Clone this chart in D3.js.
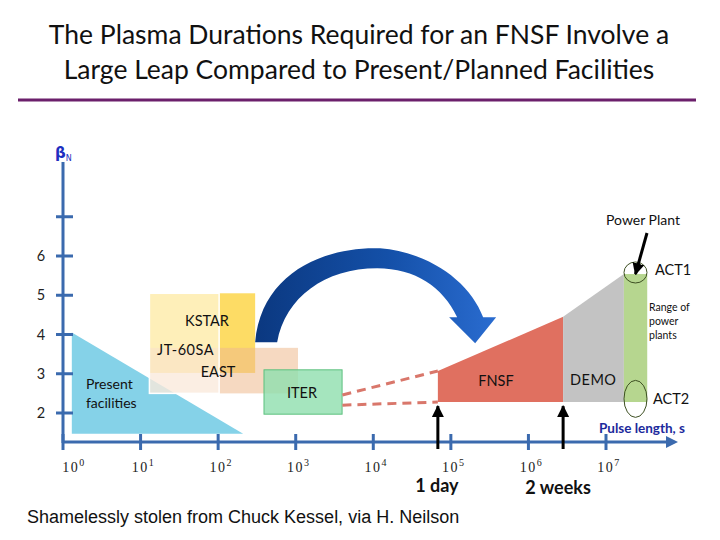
<!DOCTYPE html>
<html>
<head>
<meta charset="utf-8">
<script src="https://cdn.jsdelivr.net/npm/d3@7"></script>
<style>
  body { margin: 0; background: white; }
  svg { display: block; }
</style>
</head>
<body>
<svg id="chart"></svg>
<script>
// pulse length (s) and beta_N values
const yTicks = [2, 3, 4, 5, 6, 7];
const yTickLabels = ["2", "3", "4", "5", "6", ""];
const xTicks = [1, 1e1, 1e2, 1e3, 1e4, 1e5, 1e6, 1e7];
const xTickExp = ["0", "1", "2", "3", "4", "5", "6", "7"];

// present facilities triangle
const presentSec = [1.3, 1.3, 210];
const presentBeta = [4.05, 1.47, 1.47];

// boxes: [x0, x1, y0, y1]
const kstarBox = [13, 300, 3.02, 5.05];
const eastBox = [13, 1070, 2.5, 3.66];
const jt60Box = [13, 103, 2.5, 5.05];
const iterBox = [390, 3960, 1.97, 3.1];

// FNSF / DEMO / power plants
const fnsfSec = [68000, 68000, 2.8e6, 2.8e6];
const fnsfBeta = [2.28, 3.07, 4.45, 2.28];
const demoSec = [2.8e6, 2.8e6, 1.7e7, 1.7e7];
const demoBeta = [2.28, 4.45, 5.54, 2.28];
const plantBox = [1.7e7, 3.4e7, 2.28, 5.54];

// dashed extrapolation from ITER to FNSF
const dashUpper = [[4000, 2.46], [68000, 3.07]];
const dashLower = [[4000, 2.2], [68000, 2.28]];

// markers: 1 day and 2 weeks arrows
const markerSec = [68000, 2.8e6];
const markerLabels = ["1 day", "2 weeks"];

const width = 720, height = 540;
const svg = d3.select("#chart").attr("width", width).attr("height", height);

const x = d3.scaleLog().domain([1, 1e7]).range([63, 606]);
const y = d3.scaleLinear().domain([2, 6]).range([413, 256]);

const axisColor = "#3b6aae";
const labelFont = "Lato, 'Open Sans', sans-serif";

// title
const title = svg.append("g").attr("font-family", labelFont).attr("font-size", 26.5)
  .attr("text-anchor", "middle").attr("fill", "#111");
title.append("text").attr("x", 359).attr("y", 44).text("The Plasma Durations Required for an FNSF Involve a");
title.append("text").attr("x", 359).attr("y", 79).text("Large Leap Compared to Present/Planned Facilities");
svg.append("line").attr("x1", 18).attr("x2", 696).attr("y1", 100).attr("y2", 100)
  .attr("stroke", "#6b1f6b").attr("stroke-width", 3);

const defs = svg.append("defs");
const grad = defs.append("linearGradient").attr("id", "arcGrad")
  .attr("x1", "0%").attr("x2", "100%").attr("y1", "0%").attr("y2", "0%");
grad.append("stop").attr("offset", "0%").attr("stop-color", "#0b3880");
grad.append("stop").attr("offset", "55%").attr("stop-color", "#1450a8");
grad.append("stop").attr("offset", "100%").attr("stop-color", "#2a6cd0");

function arrowHead(id, color) {
  defs.append("marker").attr("id", id)
    .attr("viewBox", "0 0 10 10").attr("refX", 9).attr("refY", 5)
    .attr("markerWidth", 4).attr("markerHeight", 4).attr("orient", "auto")
    .append("path").attr("d", "M0,0 L10,5 L0,10 Z").attr("fill", color);
}
arrowHead("blackHead", "#000");

// present facilities
const tri = d3.zip(presentSec, presentBeta);
svg.append("path")
  .attr("d", "M" + tri.map(d => [x(d[0]), y(d[1])]).join("L") + "Z")
  .attr("fill", "#85d2e8");

function box(b, fill, opacity, stroke) {
  return svg.append("rect")
    .attr("x", x(b[0])).attr("width", x(b[1]) - x(b[0]))
    .attr("y", y(b[3])).attr("height", y(b[2]) - y(b[3]))
    .attr("fill", fill).attr("fill-opacity", opacity)
    .attr("stroke", stroke || "none");
}
box(kstarBox, "#fdd64a", 0.85);
box(eastBox, "#eeb98e", 0.55);
box(jt60Box, "#ffffff", 0.55, "#ffffff").attr("stroke-width", 1.5);
box(iterBox, "#8fdfae", 0.8, "#5cc07e").attr("stroke-width", 1);

// the big curved arrow
const ax0 = x(300), ay0 = y(3.8);
const arc = d3.path();
arc.moveTo(ax0, ay0);
arc.bezierCurveTo(ax0 + 6, ay0 - 70, ax0 + 70, ay0 - 96, ax0 + 125, ay0 - 94);
arc.bezierCurveTo(ax0 + 175, ay0 - 90, ax0 + 215, ay0 - 60, ax0 + 228, ay0 - 25);
arc.lineTo(ax0 + 241, ay0 - 25);
arc.lineTo(ax0 + 220, ay0 + 1);
arc.lineTo(ax0 + 194, ay0 - 25);
arc.lineTo(ax0 + 202, ay0 - 25);
arc.bezierCurveTo(ax0 + 188, ay0 - 55, ax0 + 160, ay0 - 74, ax0 + 122, ay0 - 74);
arc.bezierCurveTo(ax0 + 70, ay0 - 74, ax0 + 30, ay0 - 45, ax0 + 22, ay0);
arc.closePath();
svg.append("path").attr("d", arc.toString()).attr("fill", "url(#arcGrad)");

// dashed extrapolation
const line = d3.line().x(d => x(d[0])).y(d => y(d[1]));
[dashUpper, dashLower].forEach(d => {
  svg.append("path").attr("d", line(d)).attr("fill", "none")
    .attr("stroke", "#d9776b").attr("stroke-width", 3).attr("stroke-dasharray", "9,6");
});

function poly(secs, betas, fill) {
  svg.append("path")
    .attr("d", line(d3.zip(secs, betas)) + "Z")
    .attr("fill", fill);
}
poly(fnsfSec, fnsfBeta, "#e07060");
poly(demoSec, demoBeta, "#c3c3c3");
box(plantBox, "#b6d68f", 1);

// ACT ellipses
svg.append("ellipse").attr("cx", x(2.4e7)).attr("cy", y(5.58)).attr("rx", 11.5).attr("ry", 10.5)
  .attr("fill", "none").attr("stroke", "#3d4f22").attr("stroke-width", 1);
svg.append("ellipse").attr("cx", x(2.4e7)).attr("cy", y(2.36)).attr("rx", 11.5).attr("ry", 18.5)
  .attr("fill", "none").attr("stroke", "#3d4f22").attr("stroke-width", 1);

// axes
const xEnd = 678;
svg.append("line").attr("x1", x(1)).attr("x2", xEnd - 8).attr("y1", 442).attr("y2", 442)
  .attr("stroke", axisColor).attr("stroke-width", 3);
svg.append("path").attr("d", `M${xEnd - 12},436 L${xEnd},442 L${xEnd - 12},448 Z`).attr("fill", axisColor);
svg.append("line").attr("x1", 63).attr("x2", 63).attr("y1", 443).attr("y2", 162)
  .attr("stroke", axisColor).attr("stroke-width", 3);

svg.selectAll(".ytick").data(yTicks).enter().append("line")
  .attr("x1", 56).attr("x2", 73).attr("y1", d => y(d)).attr("y2", d => y(d))
  .attr("stroke", axisColor).attr("stroke-width", 3);
svg.selectAll(".ylab").data(yTicks).enter().append("text")
  .attr("x", 41).attr("y", d => y(d) + 5).attr("text-anchor", "middle")
  .attr("font-family", labelFont).attr("font-size", 14.5).attr("fill", "#222")
  .text((d, i) => yTickLabels[i]);

svg.selectAll(".xtick").data(xTicks).enter().append("line")
  .attr("x1", d => x(d)).attr("x2", d => x(d)).attr("y1", 434).attr("y2", 450)
  .attr("stroke", axisColor).attr("stroke-width", 3);
const xl = svg.selectAll(".xlab").data(xTicks).enter().append("text")
  .attr("x", (d, i) => x(d) + (i === 0 ? 11 : 3)).attr("y", 472).attr("text-anchor", "middle")
  .attr("font-family", "'Liberation Serif', serif").attr("font-size", 14)
  .attr("letter-spacing", 1.5).attr("fill", "#222");
xl.append("tspan").text("10");
xl.append("tspan").attr("dy", -6).attr("font-size", 10).text((d, i) => xTickExp[i]);

// beta_N
const bl = svg.append("text").attr("x", 55).attr("y", 158).attr("fill", "#1e2fc0")
  .attr("font-family", "'DejaVu Sans', sans-serif").attr("font-weight", "bold").attr("font-size", 15);
bl.append("tspan").text("β");
bl.append("tspan").attr("font-size", 8).attr("font-weight", "normal").attr("dy", 3).text("N");

// marker arrows
svg.selectAll(".marker").data(markerSec).enter().append("line")
  .attr("x1", d => x(d)).attr("x2", d => x(d)).attr("y1", 449).attr("y2", y(2.2) + 1)
  .attr("stroke", "#000").attr("stroke-width", 3).attr("marker-end", "url(#blackHead)");
svg.selectAll(".mlab").data(markerSec).enter().append("text")
  .attr("x", (d, i) => x(d) + (i === 0 ? -1 : -5)).attr("y", (d, i) => 492 + i * 2)
  .attr("text-anchor", "middle").attr("font-family", labelFont).attr("font-weight", "bold")
  .attr("font-size", 18).attr("fill", "#111")
  .text((d, i) => markerLabels[i]);

// power plant arrow
svg.append("line").attr("x1", 647).attr("y1", 233).attr("x2", x(2.4e7)).attr("y2", y(5.54))
  .attr("stroke", "#000").attr("stroke-width", 3).attr("marker-end", "url(#blackHead)");

// labels
function label(t, px, py, size, anchor, opts) {
  const el = svg.append("text").attr("x", px).attr("y", py)
    .attr("font-family", labelFont).attr("font-size", size)
    .attr("text-anchor", anchor || "start").attr("fill", "#111").text(t);
  if (opts) Object.keys(opts).forEach(k => el.attr(k, opts[k]));
  return el;
}
label("Present", 86, 389, 14);
label("facilities", 86, 408, 14);
label("KSTAR", 207, 326, 14.5, "middle");
label("JT-60SA", 157, 355, 14.5, "start", {"letter-spacing": 0.5});
label("EAST", 218, 377, 14.5, "middle");
label("ITER", 302, 398, 14.5, "middle");
label("FNSF", 496, 386, 14.5, "middle");
label("DEMO", 570, 385, 14.5, "start", {"letter-spacing": 0.5});
label("Power Plant", 643, 225, 14, "middle");
label("ACT1", 655, 275, 14.5);
label("ACT2", 653, 404, 14.5);
label("Range of", 649, 311, 10.5);
label("power", 649, 325, 10.5);
label("plants", 649, 339, 10.5);
label("Pulse length, s", 685, 433, 13.5, "end", {"font-weight": "bold", fill: "#1c2a9c"});

svg.append("text").attr("x", 27).attr("y", 523)
  .attr("font-family", "'Liberation Sans', Arial, sans-serif").attr("font-size", 18)
  .attr("fill", "#111").text("Shamelessly stolen from Chuck Kessel, via H. Neilson");
</script>
</body>
</html>
